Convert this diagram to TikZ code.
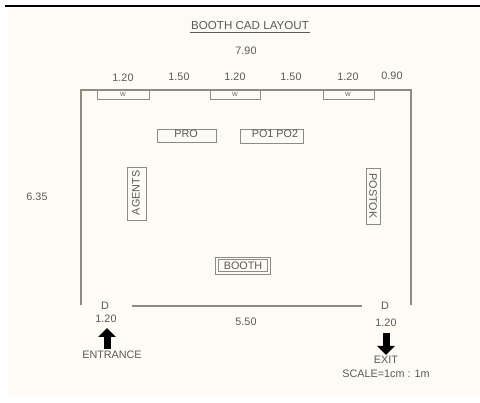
\documentclass[tikz,border=0pt]{standalone}
\usepackage{fontspec}
\setmainfont{Liberation Sans}
\usetikzlibrary {arrows.meta}
\definecolor{paper}{HTML}{FDFBF3}
\definecolor{wall}{HTML}{8C8C82}
\definecolor{ink}{HTML}{5A5A54}
\tikzset{
  wallline/.style={draw=wall, line width=1.1pt},
  boxline/.style={draw=wall, line width=.9pt},
  label/.style={text=ink, font=\fontsize{10.8}{12}\selectfont, inner sep=0pt},
  smalllabel/.style={label, font=\fontsize{6}{6}\selectfont},
  bigarrow/.style={line width=7pt, -{Triangle[length=9pt, width=17pt]}, black},
}
\begin{document}
\begin{tikzpicture}[x=1pt, y=-1pt]
        \useasboundingbox (0, 0)rectangle(480, 403);
        \fill [white] (0, 0)rectangle(480, 403);
        \fill [paper] (8, 8)rectangle(480, 396);
        \draw [black, line width=2pt] (5, 6)--(480, 6);
        % title
        \node [label, font=\fontsize{11.6}{13}\selectfont] (title) at (250, 26) {BOOTH CAD LAYOUT};
        \draw [ink, line width=.6pt] (190, 32)--(310, 32);
        % dimensions
        \node [label] (total) at (246, 51) {7.90};
        \node [label] (dimA) at (123, 78) {1.20};
        \node [label] (dimB) at (179, 77) {1.50};
        \node [label] (dimC) at (235, 77) {1.20};
        \node [label] (dimD) at (291, 77) {1.50};
        \node [label] (dimE) at (348, 77) {1.20};
        \node [label] (dimF) at (392, 76) {0.90};
        \node [label] (depth) at (37, 197) {6.35};
        % walls
        \coordinate (wallBL) at (81, 305);
        \coordinate (wallTL) at (81, 90);
        \coordinate (wallTR) at (411, 90);
        \coordinate (wallBR) at (411, 305);
        \coordinate (frontL) at (132, 306);
        \coordinate (frontR) at (362, 306);
        \draw [wallline] (wallBL)--(wallTL)--(wallTR)--(wallBR);
        \draw [wallline] (frontL)--(frontR);
        % windows
        \draw [boxline] (97, 90)rectangle(149, 99) (123, 94.5)node[smalllabel] (winA){W};
        \draw [boxline] (210, 90)rectangle(260, 99) (235, 94.5)node[smalllabel] (winB){W};
        \draw [boxline] (323, 90)rectangle(374, 99) (348, 94.5)node[smalllabel] (winC){W};
        % desks
        \draw [boxline] (157, 129)rectangle(216, 142) (186, 134)node[label] (pro){PRO};
        \draw [boxline] (240, 129)rectangle(303, 143) (275, 134)node[label] (pos){PO1 PO2};
        \draw [boxline] (127, 167)rectangle(146, 220) (136, 193)node[label, rotate=90] (agents){AGENTS};
        \draw [boxline] (366, 168)rectangle(380, 224) (373, 196)node[label, rotate=-90] (postok){POSTOK};
        \draw [boxline] (215, 257)rectangle(270, 274) (243, 265.5)node[label] (booth){BOOTH};
        \draw [wall, line width=.5pt] (218, 259.5)rectangle(267, 271.5);
        % doors
        \node [label] (doorL) at (105, 306) {D};
        \node [label] (doorR) at (385, 306) {D};
        \node [label] (widthL) at (106, 319) {1.20};
        \node [label] (widthR) at (386, 323) {1.20};
        \node [label] (front) at (246, 322) {5.50};
        % entrance and exit
        \node [label] (entrance) at (112, 355) {ENTRANCE};
        \node [label] (exit) at (386, 360) {EXIT};
        \node [label] (scale) at (386, 374) {SCALE=1cm : 1m};
        \draw [bigarrow] (107, 349)--(107, 328);
        \draw [bigarrow] (386, 333)--(386, 355);
      \end{tikzpicture}
\end{document}
